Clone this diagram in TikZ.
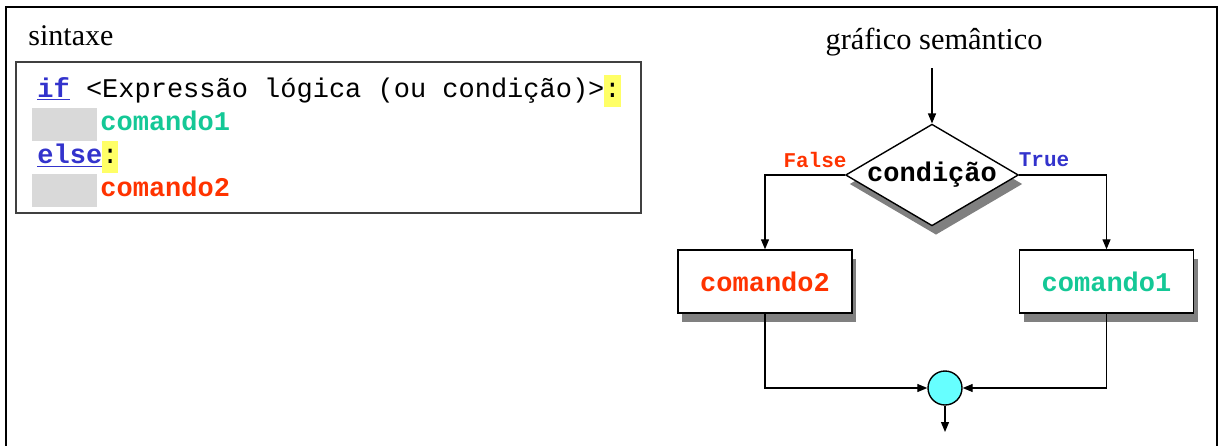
\documentclass[tikz,border=0pt]{standalone}
\usepackage{fontspec}
\setmainfont{Liberation Serif}
\setmonofont{Liberation Mono}
\usepackage{xcolor}
\usepackage{tikz}
\usetikzlibrary{arrows.meta,shapes.geometric,shadows,calc}

\definecolor{kwblue}{HTML}{3333CC}
\definecolor{cmdgreen}{HTML}{14C896}
\definecolor{cmdred}{HTML}{FF3300}
\definecolor{hlyellow}{HTML}{FFFF66}
\definecolor{tabgray}{HTML}{D9D9D9}
\definecolor{joincyan}{HTML}{66FFFF}

\newcommand{\kw}[1]{\textcolor{kwblue}{\textbf{\underline{#1}}}}
\newcommand{\hlc}[1]{{\setlength{\fboxsep}{0pt}\colorbox{hlyellow}{\strut #1}}}
\newcommand{\codefont}{\ttfamily\fontsize{13.5}{16}\selectfont}

\tikzset{
  flow/.style={-{Triangle[length=5pt,width=4pt]}, line width=0.6pt},
  cmdbox/.style={draw, fill=white, line width=0.7pt, minimum width=87pt,
    minimum height=31.5pt, inner sep=0pt,
    drop shadow={shadow xshift=2pt, shadow yshift=-4.5pt, fill=gray, opacity=1}},
  codeline/.style={anchor=base west, inner sep=0pt, font=\codefont},
}

\begin{document}
\begin{tikzpicture}[x=0.5pt,y=-0.5pt]
\useasboundingbox (0,0) rectangle (1219,445);
% outer frame
\draw[line width=1pt] (6,460) -- (6,7) -- (1217,7) -- (1217,460);

% syntax side
\node (sintaxe) at (28,45) [anchor=base west, inner sep=0pt,
  font=\fontsize{15}{17}\selectfont] {sintaxe};
\node (codebox) at (328.5,137.5) [draw=black!75, line width=1pt,
  minimum width=312.5pt, minimum height=75.5pt] {};
\node (tab1) at (64.5,124.5) [fill=tabgray, minimum width=32.5pt, minimum height=16.5pt, inner sep=0pt] {};
\node (tab2) at (64.5,190) [fill=tabgray, minimum width=32.5pt, minimum height=16.5pt, inner sep=0pt] {};
\node (line1) at (37,97) [codeline] {\kw{if} <Expressão lógica (ou condição)>\hlc{:}};
\node (line2) at (100,130) [codeline] {\textcolor{cmdgreen}{\textbf{comando1}}};
\node (line3) at (37,163) [codeline] {\kw{else}\hlc{:}};
\node (line4) at (100,196) [codeline] {\textcolor{cmdred}{\textbf{comando2}}};

% semantic graph
\node (titulo) at (934,42) [font=\fontsize{15.2}{17}\selectfont] {gráfico semântico};
\coordinate (start) at (932,68);
\node (cond) at (932,175) [diamond, draw, fill=white, line width=0.7pt, shape aspect=1.7,
  minimum width=86pt, minimum height=50.5pt, inner sep=0pt,
  drop shadow={shadow xshift=2pt, shadow yshift=-4.5pt, fill=gray, opacity=1},
  font=\codefont\bfseries] {condição};
\node (false) at (815,160) [font=\ttfamily\bfseries\fontsize{10.5}{12}\selectfont, text=cmdred] {False};
\node (true) at (1044,160) [font=\ttfamily\bfseries\fontsize{10.5}{12}\selectfont, text=kwblue] {True};
\node (cmd2) at (765,281.5) [cmdbox, font=\codefont\bfseries, text=cmdred] {comando2};
\node (cmd1) at (1106.5,281.5) [cmdbox, font=\codefont\bfseries, text=cmdgreen] {comando1};
\node (join) at (945,388) [circle, draw, fill=joincyan, line width=0.7pt,
  minimum size=17pt, inner sep=0pt] {};
\coordinate (end) at (945,432);

\draw[flow] (start) -- (cond.north);
\draw[flow] (cond.west) -| (cmd2.north);
\draw[flow] (cond.east) -| (cmd1.north);
\draw[flow] (cmd2.south) |- (join.west);
\draw[flow] (cmd1.south) |- (join.east);
\draw[flow] (join) -- (end);

\end{tikzpicture}
\end{document}
